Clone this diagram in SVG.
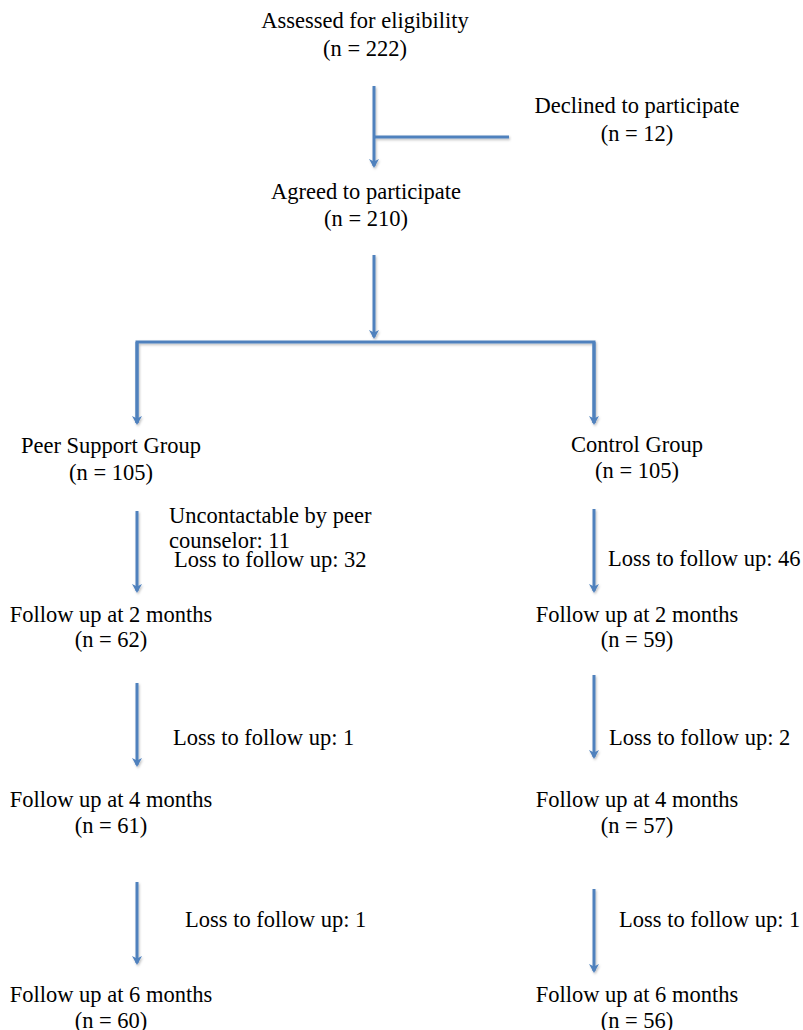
<svg xmlns="http://www.w3.org/2000/svg" width="803" height="1030" viewBox="0 0 803 1030">
<defs>
<style>
text{font-family:"Liberation Serif","Times New Roman",serif;font-size:22.5px;fill:#000}
.c{text-anchor:middle}
.ln{fill:none;stroke:#4F81BD;stroke-width:3;stroke-linejoin:miter}
.ar{marker-end:url(#ah)}
</style>
<marker id="ah" markerUnits="userSpaceOnUse" viewBox="0 0 9 10" markerWidth="9" markerHeight="10" refX="7" refY="5" orient="auto">
<path d="M0,0 L9,5 L0,10 L2.5,5 Z" fill="#4F81BD"/>
</marker>
<filter id="sh" x="-20%" y="-20%" width="140%" height="140%">
<feDropShadow dx="1" dy="1.5" stdDeviation="1" flood-color="#000" flood-opacity="0.25"/>
</filter>
</defs>
<rect width="803" height="1030" fill="#fff"/>
<g id="connectors" filter="url(#sh)">
<line class="ln ar" x1="374" y1="86" x2="374" y2="166"/>
<line class="ln" x1="374" y1="137" x2="509" y2="137"/>
<line class="ln ar" x1="374" y1="255" x2="374" y2="337"/>
<path class="ln" d="M137,423 V342 H594 V423"/>
<line class="ln ar" x1="137" y1="342" x2="137" y2="423"/>
<line class="ln ar" x1="594" y1="342" x2="594" y2="423"/>
<line class="ln ar" x1="137" y1="511" x2="137" y2="591"/>
<line class="ln ar" x1="594" y1="509" x2="594" y2="591"/>
<line class="ln ar" x1="137" y1="683" x2="137" y2="765"/>
<line class="ln ar" x1="594" y1="675" x2="594" y2="757"/>
<line class="ln ar" x1="137" y1="882" x2="137" y2="963"/>
<line class="ln ar" x1="594" y1="889" x2="594" y2="971"/>
</g>
<g id="assessed"><text class="c" x="365" y="28">Assessed for eligibility</text><text class="c" x="365" y="56">(n = 222)</text></g>
<g id="declined"><text class="c" x="637" y="113">Declined to participate</text><text class="c" x="637" y="141">(n = 12)</text></g>
<g id="agreed"><text class="c" x="366" y="199">Agreed to participate</text><text class="c" x="366" y="226">(n = 210)</text></g>
<g id="peer"><text class="c" x="111" y="453">Peer Support Group</text><text class="c" x="111" y="480">(n = 105)</text></g>
<g id="control"><text class="c" x="637" y="452">Control Group</text><text class="c" x="637" y="478">(n = 105)</text></g>
<g id="peer-loss-1"><text x="169" y="523">Uncontactable by peer</text><text x="169" y="548">counselor: 11</text><text x="174" y="567">Loss to follow up: 32</text></g>
<g id="control-loss-1"><text x="608" y="566">Loss to follow up: 46</text></g>
<g id="peer-2m"><text class="c" x="111" y="622">Follow up at 2 months</text><text class="c" x="111" y="647">(n = 62)</text></g>
<g id="control-2m"><text class="c" x="637" y="622">Follow up at 2 months</text><text class="c" x="637" y="647">(n = 59)</text></g>
<g id="peer-loss-2"><text x="173" y="745">Loss to follow up: 1</text></g>
<g id="control-loss-2"><text x="609" y="745">Loss to follow up: 2</text></g>
<g id="peer-4m"><text class="c" x="111" y="807">Follow up at 4 months</text><text class="c" x="111" y="833">(n = 61)</text></g>
<g id="control-4m"><text class="c" x="637" y="807">Follow up at 4 months</text><text class="c" x="637" y="833">(n = 57)</text></g>
<g id="peer-loss-3"><text x="185" y="927">Loss to follow up: 1</text></g>
<g id="control-loss-3"><text x="619" y="927">Loss to follow up: 1</text></g>
<g id="peer-6m"><text class="c" x="111" y="1002">Follow up at 6 months</text><text class="c" x="111" y="1028">(n = 60)</text></g>
<g id="control-6m"><text class="c" x="637" y="1002">Follow up at 6 months</text><text class="c" x="637" y="1028">(n = 56)</text></g>
</svg>
